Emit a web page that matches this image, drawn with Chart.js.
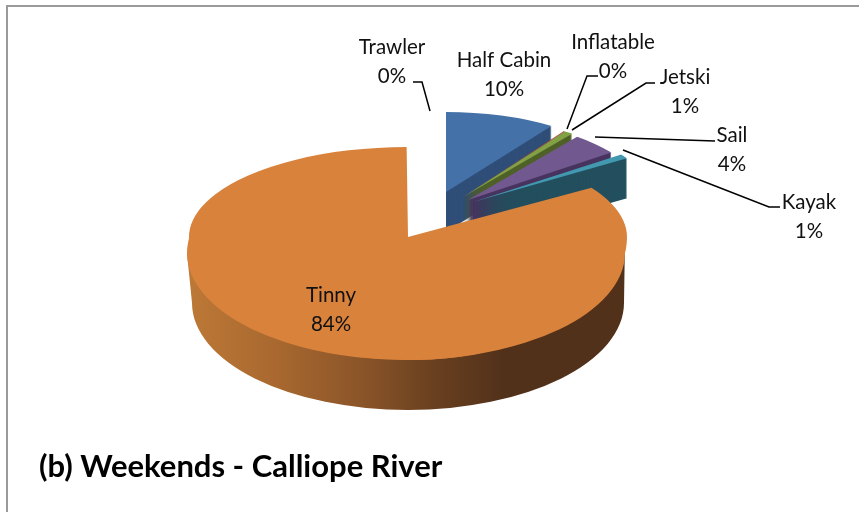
<!DOCTYPE html>
<html>
<head>
<meta charset="utf-8">
<style>html,body{margin:0;padding:0;background:#fff}#w{width:859px;height:512px}</style>
<script src="https://cdn.jsdelivr.net/npm/chart.js@4"></script>
</head>
<body>
<div id="w"><canvas id="c" width="859" height="512"></canvas></div>
<script>
// Data
const categories = ['Half Cabin','Inflatable','Jetski','Sail','Kayak','Tinny','Trawler'];
const shares = [9.6,0.1,0.8,4.4,0.9,84.1,0.1];
const chartTitle = '(b) Weekends - Calliope River';

// Styles
const topColors  = ['#4472A8','#AA4643','#82A044','#71588F','#4198AF','#D9823B','#8FB5DC'];
const wallColors = ['#2F4E78','#6E2C2A','#4F6128','#47345F','#234F5E','#52311A','#5A7A9A'];
const burst = [[38,-45],[55,-40],[55,-40],[60,-37],[65,-35],[0,0],[0,0]];
const burstRx = [186,178,178,178,184,0,0];
const burstRy = [80,80,80,80,80,0,0];
const labelSpots = [[504,60],[613,42],[685,77],[732,135],[809,202],[331,295],[392,47]];
const leaders = [
  null,
  [[598,76],[587,76],[567,129]],
  [[655,83],[646,83],[572,130]],
  [[715,141],[595,137]],
  [[780,207],[769,207],[623,150]],
  null,
  [[413,82],[422,82],[430,111]]
];
const apex = {x:408,y:237};
const RADIUS = 219, UP = 90, DOWN = 123;
const TRUE_CY = 253, TRUE_CX = 406, TRUE_RY = 107;
const FLOOR = {x:408,y:303,rx:216,ry:107};
const BURST_DEPTH = 40;

function drawTinnySide(ctx){
  const g = ctx.createLinearGradient(190,0,625,0);
  g.addColorStop(0,'#BC7836'); g.addColorStop(.2,'#A8682F'); g.addColorStop(.4,'#8A5429');
  g.addColorStop(.55,'#6B4120'); g.addColorStop(.72,'#52311A'); g.addColorStop(1,'#52311A');
  ctx.fillStyle = g;
  ctx.beginPath();
  ctx.moveTo(apex.x-RADIUS-2, TRUE_CY);
  ctx.lineTo(FLOOR.x-FLOOR.rx, FLOOR.y);
  ctx.ellipse(FLOOR.x,FLOOR.y,FLOOR.rx,FLOOR.ry,0,Math.PI,0,true);
  ctx.lineTo(apex.x+RADIUS-2, apex.y+3);
  ctx.closePath();
  ctx.fill();
}
function drawTop(ctx, el, ax, ay, sx, sy){
  ctx.save();
  ctx.translate(ax,ay); ctx.scale(sx,sy); ctx.translate(-el.x,-el.y);
  el.draw(ctx);
  ctx.restore();
}
function clipBand(ctx, y0, y1){
  ctx.beginPath(); ctx.rect(0,y0,859,y1-y0); ctx.clip();
}
const pie3d = {
  id:'pie3d',
  beforeDatasetsDraw(chart){
    const ctx = chart.ctx;
    const arcs = chart.getDatasetMeta(0).data;
    const t = categories.indexOf('Tinny');
    // frame
    ctx.save();
    ctx.strokeStyle='#9a9a9a'; ctx.lineWidth=2;
    ctx.beginPath(); ctx.moveTo(7,512); ctx.lineTo(7,6); ctx.lineTo(859,6); ctx.stroke();
    ctx.restore();
    drawTinnySide(ctx);
    // exploded slices, back to front
    arcs.forEach((el,i)=>{
      if(i===t || i===arcs.length-1) return;
      const ax = apex.x+burst[i][0], ay = apex.y+burst[i][1];
      ctx.save();
      ctx.fillStyle = wallColors[i];
      for(let d=BURST_DEPTH;d>=1;d--){
        ctx.beginPath();
        ctx.moveTo(ax,ay+d);
        ctx.ellipse(ax,ay+d,burstRx[i],burstRy[i],0,el.startAngle,el.endAngle);
        ctx.closePath(); ctx.fill();
      }
      ctx.restore();
      drawTop(ctx,el,ax,ay,burstRx[i]/RADIUS,burstRy[i]/RADIUS);
    });
    // Tinny top
    const el = arcs[t];
    ctx.save(); clipBand(ctx,0,apex.y);
    drawTop(ctx,el,apex.x,apex.y,1,UP/RADIUS);
    ctx.restore();
    ctx.save(); clipBand(ctx,apex.y,512);
    drawTop(ctx,el,apex.x,apex.y,1,DOWN/RADIUS);
    drawTop(ctx,el,TRUE_CX,TRUE_CY,1,TRUE_RY/RADIUS);
    ctx.restore();
    return false;
  },
  afterDraw(chart){
    const ctx = chart.ctx;
    ctx.save();
    ctx.strokeStyle='#000'; ctx.lineWidth=1.5;
    leaders.forEach(pts=>{
      if(!pts) return;
      ctx.beginPath();
      pts.forEach((p,j)=> j? ctx.lineTo(p[0],p[1]) : ctx.moveTo(p[0],p[1]));
      ctx.stroke();
    });
    ctx.fillStyle='#111'; ctx.font='20.5px Lato'; ctx.textAlign='center'; ctx.textBaseline='middle';
    categories.forEach((name,i)=>{
      const [x,y]=labelSpots[i];
      ctx.fillText(name,x,y);
      ctx.fillText(Math.round(shares[i])+'%',x,y+29);
    });
    ctx.restore();
  }
};
new Chart(document.getElementById('c'),{
  type:'pie',
  data:{labels:categories,datasets:[{data:shares,backgroundColor:topColors,borderWidth:0,radius:RADIUS}]},
  plugins:[pie3d],
  options:{
    responsive:false,animation:false,
    layout:{padding:{left:39,right:10,top:10,bottom:26}},
    plugins:{
      legend:{display:false},tooltip:{enabled:false},
      title:{display:true,text:chartTitle,position:'bottom',align:'start',color:'#000',
        font:{family:'Lato',size:31,weight:'bold'},padding:{top:0,bottom:0}}
    }
  }
});
</script>
</body>
</html>
